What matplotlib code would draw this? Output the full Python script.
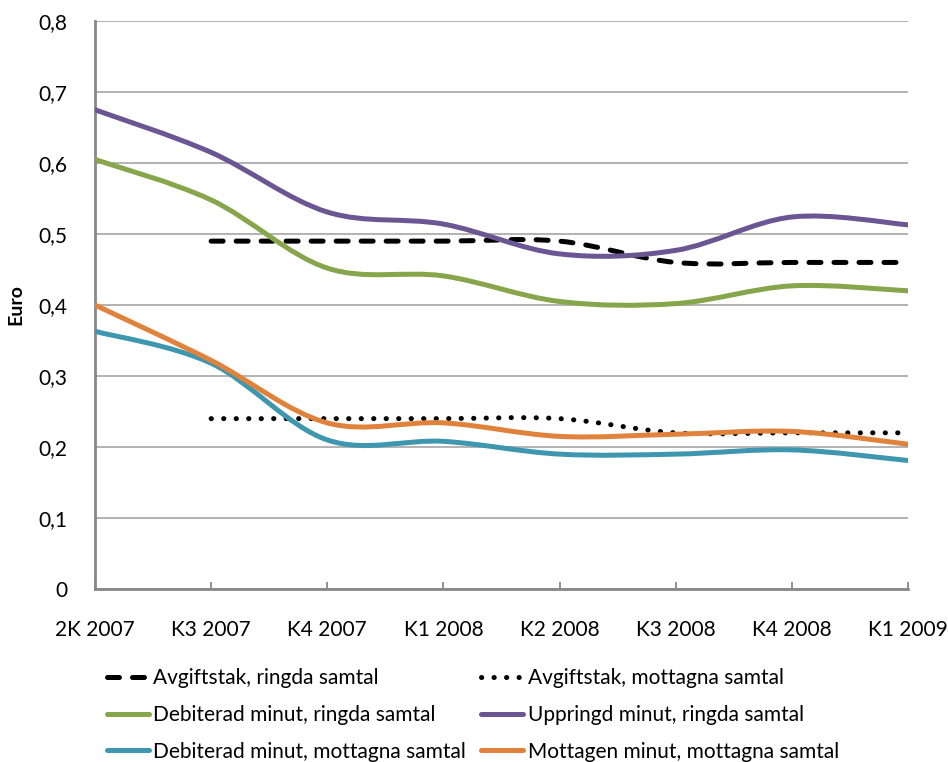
import matplotlib
matplotlib.use('Agg')
import matplotlib.pyplot as plt
from matplotlib.path import Path
from matplotlib.patches import PathPatch
from matplotlib.lines import Line2D

quarters = ["2K 2007", "K3 2007", "K4 2007", "K1 2008",
            "K2 2008", "K3 2008", "K4 2008", "K1 2009"]
tak_ringda = [None, 0.49, 0.49, 0.49, 0.49, 0.46, 0.46, 0.46]
tak_mottagna = [None, 0.24, 0.24, 0.24, 0.24, 0.22, 0.22, 0.22]
deb_ringda = [0.605, 0.548, 0.452, 0.441, 0.405, 0.402, 0.427, 0.420]
uppringd = [0.675, 0.615, 0.531, 0.514, 0.472, 0.477, 0.524, 0.513]
deb_mottagna = [0.363, 0.318, 0.210, 0.208, 0.190, 0.190, 0.196, 0.181]
mottagen = [0.400, 0.322, 0.234, 0.234, 0.215, 0.218, 0.222, 0.204]
yticks = [0, 0.1, 0.2, 0.3, 0.4, 0.5, 0.6, 0.7, 0.8]
ytick_labels = ["0", "0,1", "0,2", "0,3", "0,4", "0,5", "0,6", "0,7", "0,8"]

plt.rcParams['font.family'] = ['Lato', 'DejaVu Sans']


def smooth_path(values):
    # Excel-style smoothed line: cubic bezier through the points
    pts = [(i, v) for i, v in enumerate(values) if v is not None]
    verts = [pts[0]]
    codes = [Path.MOVETO]
    n = len(pts)
    for k in range(n - 1):
        p0 = pts[k - 1] if k > 0 else pts[k]
        p1 = pts[k]
        p2 = pts[k + 1]
        p3 = pts[k + 2] if k + 2 < n else pts[k + 1]
        c1 = (p1[0] + (p2[0] - p0[0]) / 6, p1[1] + (p2[1] - p0[1]) / 6)
        c2 = (p2[0] - (p3[0] - p1[0]) / 6, p2[1] - (p3[1] - p1[1]) / 6)
        verts += [c1, c2, p2]
        codes += [Path.CURVE4] * 3
    return Path(verts, codes)


series = [
    ("Avgiftstak, ringda samtal", tak_ringda, 'black', (0, (2.4, 2.6))),
    ("Avgiftstak, mottagna samtal", tak_mottagna, 'black', (0, (0.05, 2.45))),
    ("Debiterad minut, ringda samtal", deb_ringda, '#87A54A', '-'),
    ("Uppringd minut, ringda samtal", uppringd, '#6B5592', '-'),
    ("Debiterad minut, mottagna samtal", deb_mottagna, '#3E97AF', '-'),
    ("Mottagen minut, mottagna samtal", mottagen, '#E0823B', '-'),
]

fig = plt.figure(figsize=(9.48, 7.62), dpi=100)
ax = fig.add_axes([0.1002, 0.227, 0.8576, 0.7454])

lw = 3.6
handles = []
for label, vals, color, ls in series:
    patch = PathPatch(smooth_path(vals), fill=False, edgecolor=color,
                      linewidth=lw, linestyle=ls, capstyle='round', zorder=3)
    ax.add_patch(patch)
    h = Line2D([], [], color=color, linewidth=lw, linestyle=ls,
               dash_capstyle='round', solid_capstyle='round')
    handles.append(h)

ax.set_xlim(0, len(quarters) - 1)
ax.set_ylim(0, 0.8)
ax.set_xticks(range(len(quarters)))
ax.set_xticklabels(quarters, fontsize=15)
ax.set_yticks(yticks)
ax.set_yticklabels(ytick_labels, fontsize=15)
ax.tick_params(axis='x', direction='in', length=5, width=1.3,
               color='#878787', pad=22)
ax.tick_params(axis='y', length=0, pad=20)
ax.yaxis.grid(True, color='#A6A6A6', linewidth=1.2)
ax.set_axisbelow(True)
for side in ['top', 'right']:
    ax.spines[side].set_visible(False)
for side in ['left', 'bottom']:
    ax.spines[side].set_color('#878787')
    ax.spines[side].set_linewidth(2)
ax.set_ylabel("Euro", fontsize=14, fontweight='bold')
ax.yaxis.set_label_coords(-0.087, 0.5)

order = [0, 2, 4, 1, 3, 5]
fig.legend([handles[i] for i in order], [series[i][0] for i in order],
           ncol=2, loc='lower left', bbox_to_anchor=(0.0926, -0.024),
           frameon=False, fontsize=15, handlelength=2.05, handletextpad=0.2,
           columnspacing=0.69, labelspacing=0.8)

fig.savefig('out.png', dpi=100)
